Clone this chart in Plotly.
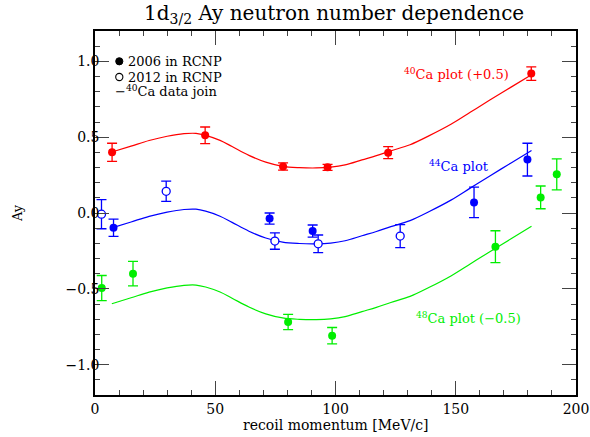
import plotly.graph_objects as go

# ---------------- data ----------------
ca40_x = [7.1, 45.8, 78.2, 96.7, 121.9, 181.4]
ca40_y = [0.40, 0.512, 0.307, 0.301, 0.398, 0.919]
ca40_e = [0.06, 0.055, 0.024, 0.02, 0.04, 0.045]

ca44_2006_x = [7.7, 72.6, 90.5, 157.6, 179.8]
ca44_2006_y = [-0.097, -0.037, -0.119, 0.07, 0.352]
ca44_2006_e = [0.057, 0.037, 0.04, 0.10, 0.108]

ca44_2012_x = [2.7, 29.6, 74.8, 92.8, 126.9]
ca44_2012_y = [-0.008, 0.143, -0.185, -0.203, -0.152]
ca44_2012_e = [0.096, 0.067, 0.054, 0.058, 0.076]

ca48_x = [2.8, 15.8, 80.3, 98.6, 166.5, 185.3, 192.0]
ca48_y = [-0.495, -0.40, -0.719, -0.809, -0.222, 0.103, 0.255]
ca48_e = [0.083, 0.081, 0.05, 0.054, 0.105, 0.075, 0.102]

curve_x = [7, 15, 22.5, 30, 37, 42, 46, 52, 57, 64, 71, 78, 85, 92, 98,
           104, 111, 117, 123, 131, 139, 148, 156, 164, 173, 181.5]
curve40_y = [0.402, 0.441, 0.478, 0.506, 0.523, 0.525, 0.512, 0.479, 0.438,
             0.380, 0.335, 0.308, 0.299, 0.297, 0.302, 0.317, 0.350, 0.378,
             0.410, 0.450, 0.510, 0.585, 0.664, 0.743, 0.830, 0.912]
curve44_y = [-0.098, -0.059, -0.022, 0.006, 0.023, 0.025, 0.012, -0.021, -0.062,
             -0.120, -0.165, -0.192, -0.201, -0.203, -0.198, -0.183, -0.150, -0.122,
             -0.090, -0.050, 0.010, 0.085, 0.164, 0.243, 0.330, 0.412]
curve48_y = [-0.598, -0.559, -0.522, -0.494, -0.477, -0.475, -0.488, -0.521, -0.562,
             -0.620, -0.665, -0.692, -0.701, -0.703, -0.698, -0.683, -0.650, -0.622,
             -0.590, -0.550, -0.490, -0.415, -0.336, -0.257, -0.170, -0.088]

x_ticks = [0, 50, 100, 150, 200]
y_ticks = [-1.0, -0.5, 0.0, 0.5, 1.0]

RED, BLUE, GREEN = "#ff0000", "#0000ff", "#00ee00"
FONT = "DejaVu Serif"

fig = go.Figure()


def curve(y, color):
    fig.add_trace(go.Scatter(x=curve_x, y=y, mode="lines",
                             line=dict(color=color, width=1.2, shape="spline"),
                             showlegend=False, hoverinfo="skip"))


def points(x, y, e, color, open_=False):
    fig.add_trace(go.Scatter(
        x=x, y=y, mode="markers",
        error_y=dict(type="data", array=e, visible=True, color=color,
                     thickness=1.3, width=5),
        marker=dict(symbol="circle", size=8,
                    color="white" if open_ else color,
                    line=dict(color=color, width=1.3 if open_ else 0)),
        showlegend=False))


curve(curve40_y, RED)
curve(curve44_y, BLUE)
curve(curve48_y, GREEN)
points(ca40_x, ca40_y, ca40_e, RED)
points(ca44_2006_x, ca44_2006_y, ca44_2006_e, BLUE)
points(ca44_2012_x, ca44_2012_y, ca44_2012_e, BLUE, open_=True)
points(ca48_x, ca48_y, ca48_e, GREEN)

# plot area on page: x 95..576, y 31..395
L, R, T, B = 95, 14, 31, 42
W, H = 590, 437
PW, PH = W - L - R, H - T - B


def px(x):
    return (x - L) / PW


def py(y):
    return (H - B - y) / PH


annotations = [
    dict(text="1d<sub>3/2</sub> Ay neutron number dependence", x=px(334), y=py(14),
         font=dict(family=FONT, size=20, color="black")),
    dict(text="recoil momentum [MeV/c]", x=0.5, y=py(425),
         font=dict(family=FONT, size=14, color="black")),
    dict(text="Ay", x=px(17), y=0.5, textangle=-90,
         font=dict(family=FONT, size=13, color="black")),
    dict(text="2006 in RCNP", x=px(126), y=py(61.5), xanchor="left",
         font=dict(family=FONT, size=13, color="black")),
    dict(text="2012 in RCNP", x=px(126), y=py(77), xanchor="left",
         font=dict(family=FONT, size=13, color="black")),
    dict(text="\u2212<sup>40</sup>Ca data join", x=px(113), y=py(91), xanchor="left",
         font=dict(family=FONT, size=13, color="black")),
    dict(text="<sup>40</sup>Ca plot (+0.5)", x=px(402), y=py(74), xanchor="left",
         font=dict(family=FONT, size=13, color=RED)),
    dict(text="<sup>44</sup>Ca plot", x=px(427), y=py(166), xanchor="left",
         font=dict(family=FONT, size=13, color=BLUE)),
    dict(text="<sup>48</sup>Ca plot (\u22120.5)", x=px(414), y=py(318), xanchor="left",
         font=dict(family=FONT, size=13, color=GREEN)),
]
for a in annotations:
    a.update(xref="paper", yref="paper", showarrow=False,
             xanchor=a.get("xanchor", "center"), yanchor="middle")

rx, ry = 3.6 / PW, 3.6 / PH
shapes = [
    dict(type="circle", xref="paper", yref="paper",
         x0=px(119.3) - rx, x1=px(119.3) + rx, y0=py(61.3) - ry, y1=py(61.3) + ry,
         fillcolor="black", line=dict(color="black", width=1)),
    dict(type="circle", xref="paper", yref="paper",
         x0=px(119.3) - rx, x1=px(119.3) + rx, y0=py(77) - ry, y1=py(77) + ry,
         fillcolor="white", line=dict(color="black", width=1.1)),
]

axis_common = dict(
    ticks="inside", mirror="ticks", showline=True, linecolor="black",
    linewidth=1.5, tickcolor="#444", tickwidth=1.3, ticklen=14,
    showgrid=False, zeroline=False,
    tickfont=dict(family=FONT, size=14, color="black"),
)

fig.update_layout(
    width=W, height=H,
    margin=dict(l=L, r=R, t=T, b=B, autoexpand=False),
    paper_bgcolor="white", plot_bgcolor="white",
    showlegend=False,
    annotations=annotations, shapes=shapes,
    xaxis=dict(range=[0, 200], tickvals=x_ticks, ticktext=[str(v) for v in x_ticks],
               minor=dict(dtick=10, ticklen=5, tickcolor="#444", tickwidth=1.2,
                          ticks="inside"),
               ticklabelstandoff=0, automargin=False,
               **axis_common),
    yaxis=dict(range=[-1.2, 1.2], tickvals=y_ticks, tickformat=".1f",
               minor=dict(dtick=0.1, ticklen=5, tickcolor="#444", tickwidth=1.2,
                          ticks="inside"),
               ticklabelstandoff=-9, automargin=False,
               **axis_common),
)

fig.write_html("out.html",
               config={"displayModeBar": False},
               post_script="document.body.style.margin='0';"
                           "document.body.style.overflow='hidden';")
